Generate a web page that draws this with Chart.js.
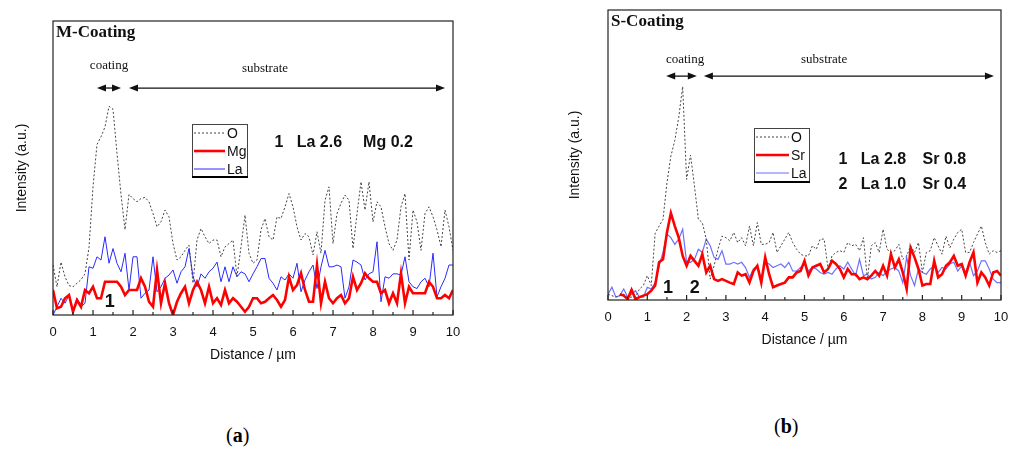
<!DOCTYPE html>
<html>
<head>
<meta charset="utf-8">
<script src="https://cdn.jsdelivr.net/npm/chart.js@4.4.1/dist/chart.umd.min.js"></script>
<style>
  body { margin: 0; width: 1013px; height: 450px; background: #fff; position: relative; overflow: hidden; font-family: "Liberation Serif", serif; }
  canvas { position: absolute; top: 0; }
  #chartA { left: 0; }
  #chartB { left: 540px; }
  .cap { position: absolute; font-size: 20px; color: #000; }
</style>
</head>
<body>
<canvas id="chartA" width="480" height="380"></canvas>
<canvas id="chartB" width="490" height="365"></canvas>
<div class="cap" style="left:226px;top:424px">(<b>a</b>)</div>
<div class="cap" style="left:774px;top:415px">(<b>b</b>)</div>
<script>
// distance along the line scan, µm
const distance = [0, 0.1, 0.2, 0.3, 0.4, 0.5, 0.6, 0.7, 0.8, 0.9, 1,
  1.1, 1.2, 1.3, 1.4, 1.5, 1.6, 1.7, 1.8, 1.9, 2,
  2.1, 2.2, 2.3, 2.4, 2.5, 2.6, 2.7, 2.8, 2.9, 3,
  3.1, 3.2, 3.3, 3.4, 3.5, 3.6, 3.7, 3.8, 3.9, 4,
  4.1, 4.2, 4.3, 4.4, 4.5, 4.6, 4.7, 4.8, 4.9, 5,
  5.1, 5.2, 5.3, 5.4, 5.5, 5.6, 5.7, 5.8, 5.9, 6,
  6.1, 6.2, 6.3, 6.4, 6.5, 6.6, 6.7, 6.8, 6.9, 7,
  7.1, 7.2, 7.3, 7.4, 7.5, 7.6, 7.7, 7.8, 7.9, 8,
  8.1, 8.2, 8.3, 8.4, 8.5, 8.6, 8.7, 8.8, 8.9, 9,
  9.1, 9.2, 9.3, 9.4, 9.5, 9.6, 9.7, 9.8, 9.9, 10];

// (a) M-Coating
const mO = [17, 9.6, 18, 13, 10, 9.6, 10.8, 12, 14, 23, 43.6,
  58, 60.6, 64, 71, 70, 55, 41, 29, 41, 39.6,
  38.5, 39.6, 40, 38.5, 34.5, 30, 31.7, 35.7, 33.4, 24.3,
  18.7, 19.8, 22, 23.8, 10.8, 25.5, 29.4, 26.6, 24.3, 25.5,
  25.5, 19.8, 23.2, 24.3, 25.5, 13, 23.2, 34, 21, 17.6,
  18.7, 29, 32.8, 26.6, 25.5, 33.4, 32.8, 36.8, 41.3, 36.8,
  30, 25.5, 27.7, 26.6, 20.4, 28.3, 21, 39, 43.6, 24.3,
  34.5, 38, 40.8, 39, 22.6, 34.5, 45.3, 35.7, 45.3, 31.7,
  38.5, 36.8, 30, 24.3, 22, 25.5, 36.8, 41.3, 18.7, 35.7,
  31.7, 22, 34.5, 36.8, 33.4, 29, 23.2, 35.7, 30, 22];
const mMg = [8.5, 2.3, 2.8, 5.7, 6.8, 1.1, 5.1, 2.8, 8.5, 7.4, 9.6,
  5.7, 5.7, 11.3, 11.3, 11.3, 11.3, 9.6, 6.8, 8.5, 8.5,
  8.5, 12.5, 9.6, 4.5, 2.8, 15.3, 4, 10.8, 4, 0,
  4.5, 7.4, 9.6, 4, 8.5, 11.3, 8.5, 4, 9.6, 4,
  5.7, 3.4, 8.5, 4, 5.7, 4.5, 2.8, 1.1, 2.8, 5.7,
  5.7, 4, 4.5, 5.7, 6.8, 5.1, 2.8, 5.1, 13, 8.5,
  10.2, 14.2, 8.5, 4.5, 4.5, 17, 4, 11.3, 5.7, 4,
  5.7, 6.8, 4, 5.7, 13, 8.5, 10.8, 14.2, 12.5, 11.3,
  11.3, 7.4, 8.5, 4, 7.4, 4, 14.2, 4, 9.6, 7.4,
  7.4, 7.4, 7.4, 11.3, 9.6, 5.7, 5.7, 6.8, 5.7, 8.5];
const mLa = [0, 2.8, 5.7, 4, 6.8, 1, 5.7, 2.8, 4, 16.4, 15.9,
  19.8, 18.7, 26.6, 17.6, 22.6, 17.6, 14.7, 21, 8.5, 19.8,
  19.8, 5.7, 7.4, 8.5, 19.8, 7.9, 9.6, 12.5, 13.6, 15.3,
  10.8, 14.7, 16.4, 22.6, 13, 9.6, 14, 12.5, 14.7, 15.9,
  18, 11.3, 16.4, 11.3, 16.4, 13, 14.7, 14, 11.3, 14,
  16.4, 19.2, 19.2, 12.5, 10.8, 8.5, 13, 11.9, 14, 12.5,
  17.6, 7.9, 11.9, 14.7, 17, 9, 16.4, 22, 16.4, 16.4,
  17, 16.4, 5.7, 9.6, 18.7, 18, 17, 11.9, 14, 14.7,
  24.9, 4.5, 13, 12.5, 14, 14, 13.6, 19.8, 11.3, 9.6,
  9, 11.3, 12.5, 9.6, 21, 6.2, 9.6, 12.5, 17, 17];

// (b) S-Coating
const sO = [2, 1.5, 1, 1.5, 2, 1, 1, 1, 3.8, 5, 8.4,
  5, 23, 25.5, 27.8, 40.4, 49.6, 55, 63, 73.6, 41.6,
  50, 39.3, 27.8, 26.7, 21, 7.2, 11.8, 17.5, 22, 21.5,
  20.4, 23.3, 19.8, 21.5, 18.7, 25.5, 18.7, 26.7, 19.2, 19.2,
  19.8, 23.3, 16.4, 18.7, 21, 23.3, 19.8, 17.5, 15.8, 15.2,
  15.2, 18.7, 17.5, 21, 21, 10.7, 15.2, 16.4, 17, 16.4,
  19.8, 18.7, 19.2, 17, 21.5, 7.2, 18.7, 19.8, 16.4, 24.4,
  17.5, 16.4, 17, 19.2, 14, 15.2, 18.7, 16.4, 19.8, 9.5,
  16.4, 17, 21.5, 18.7, 15.8, 22, 18, 21, 23.3, 24.4,
  16.4, 16.4, 19.8, 22.7, 25.5, 19.8, 15.8, 17, 16.4, 17];
const sSr = [null, null, null, 2, 1.5, 0.3, 3.5, 0.3, 1, 1.5, 2,
  3.2, 5, 13, 14, 23.3, 30, 25.5, 21.5, 15.2, 11.8,
  15.2, 13.5, 11.8, 15.8, 9.5, 11.8, 7.2, 6.6, 7.2, 6.6,
  6, 5.5, 9.5, 8.4, 8.9, 6, 10, 11.8, 6, 14.7,
  8.9, 4.4, 5, 5.5, 6, 7.8, 7.8, 9.5, 10, 13.5,
  8.4, 11.2, 11.8, 12.4, 9.5, 10.7, 13.5, 12.4, 10.7, 7.8,
  10.7, 8.9, 8.9, 7.2, 7.8, 7.2, 8.4, 10, 8.4, 11.8,
  8.4, 15.8, 11.2, 14, 9.5, 3.8, 18, 14.7, 10.7, 5,
  5.5, 5.5, 13.5, 7.8, 8.9, 11.8, 13, 15.2, 11.8, 12.4,
  8.4, 13, 16.4, 6, 9.5, 7.8, 5, 9.5, 10, 8.4];
const sLa = [2, 4.4, 1, 1.5, 3.8, 1, 2, 3.2, 1, 1, 4.4,
  3.8, 6, 11.8, 16.4, 22.7, 21.5, 19.2, 21, 24.4, 13,
  13, 14, 17.5, 16.4, 21, 18.7, 14.7, 14, 17, 12.4,
  12.4, 13, 12.4, 13, 11.2, 7.8, 10.7, 11.8, 7.2, 13,
  12.4, 11.2, 11.8, 12.4, 11.2, 13, 10, 10, 11.2, 12.4,
  10, 11.2, 10.7, 9.5, 8.9, 9.5, 8.9, 10.7, 11.8, 10.7,
  13, 10.7, 8.4, 14, 8.4, 8.9, 7.2, 7.8, 9.5, 8.4,
  10, 10.7, 11.2, 10, 6, 14.7, 8.4, 5, 10.7, 9.5,
  8.9, 10.7, 11.8, 9.5, 11.2, 10.7, 12.4, 13, 10, 11.8,
  9.5, 13, 8.4, 10, 13.5, 13.5, 10.7, 7.2, 6, 6];

const SANS = '"Liberation Sans", Arial, sans-serif';
const SERIF = '"Liberation Serif", "Times New Roman", serif';

// frame, inward ticks, legend box, arrows and notes
const decor = {
  id: 'decor',
  afterDraw(chart, args, o) {
    const { ctx, chartArea: a, scales: { x, y } } = chart;
    const px = v => x.getPixelForValue(v);
    const py = v => y.getPixelForValue(v);
    const line = (x1, y1, x2, y2) => { ctx.beginPath(); ctx.moveTo(x1, y1); ctx.lineTo(x2, y2); ctx.stroke(); };
    ctx.save();

    ctx.strokeStyle = '#222';
    ctx.lineWidth = 1.2;
    ctx.strokeRect(a.left, a.top, a.right - a.left, a.bottom - a.top);
    x.ticks.forEach((t, i) => {
      line(px(t.value), a.bottom, px(t.value), a.bottom - 5);
      if (i < x.ticks.length - 1) {
        const m = px(t.value + 0.5);
        line(m, a.bottom, m, a.bottom - 3);
      }
    });

    ctx.fillStyle = '#111';
    ctx.textBaseline = 'middle';
    ctx.textAlign = 'left';
    ctx.font = 'bold 17px ' + SERIF;
    ctx.fillText(o.name, a.left + 3, a.top + 12);

    // coating / substrate arrows
    ctx.font = '13px ' + SERIF;
    ctx.textAlign = 'center';
    o.regions.forEach(r => {
      const x1 = px(r.from), x2 = px(r.to), yy = py(r.arrowY);
      ctx.fillText(r.label, px(r.labelX), py(r.labelY));
      ctx.strokeStyle = '#111';
      ctx.lineWidth = 1.3;
      line(x1 + 4, yy, x2 - 4, yy);
      [[x1, 1], [x2, -1]].forEach(([hx, d]) => {
        ctx.beginPath();
        ctx.moveTo(hx, yy);
        ctx.lineTo(hx + d * 9, yy - 3.5);
        ctx.lineTo(hx + d * 9, yy + 3.5);
        ctx.closePath();
        ctx.fill();
      });
    });

    // legend
    const L = o.legend;
    const lx = Math.round(px(L.x)), ly = Math.round(py(L.y));
    ctx.fillStyle = '#fff';
    ctx.fillRect(lx, ly, L.w, L.h);
    ctx.strokeStyle = '#444';
    ctx.lineWidth = 1;
    ctx.strokeRect(lx + 0.5, ly + 0.5, L.w, L.h);
    ctx.strokeStyle = '#000';
    ctx.lineWidth = 2;
    line(lx, ly + L.h + 1, lx + L.w + 1, ly + L.h + 1);
    ctx.font = '14px ' + SANS;
    ctx.textAlign = 'left';
    chart.data.datasets.forEach((ds, i) => {
      const ry = ly + 9 + i * 18;
      ctx.strokeStyle = ds.borderColor;
      ctx.lineWidth = ds.borderWidth;
      ctx.setLineDash(ds.borderDash);
      line(lx + 2, ry, lx + L.lineLen, ry);
      ctx.setLineDash([]);
      ctx.fillStyle = '#111';
      ctx.fillText(ds.label, lx + L.lineLen + 2, ry + 1);
    });

    // composition notes
    ctx.fillStyle = '#111';
    ctx.textAlign = 'center';
    o.notes.forEach(n => {
      ctx.font = 'bold ' + n.size + 'px ' + SANS;
      ctx.fillText(n.text, px(n.x), py(n.y));
    });
    ctx.restore();
  }
};

function makeChart(id, series, layout, deco) {
  return new Chart(document.getElementById(id), {
    type: 'line',
    data: {
      datasets: series.map(s => ({
        label: s.label,
        data: s.values.map((v, i) => ({ x: distance[i], y: v })),
        borderColor: s.color,
        borderWidth: s.width,
        borderDash: s.dash,
        pointRadius: 0,
        tension: 0,
        fill: false
      }))
    },
    options: {
      responsive: false,
      animation: false,
      events: [],
      layout: { padding: { left: 0, right: layout.padRight, top: layout.padTop, bottom: 0 } },
      plugins: { legend: { display: false }, tooltip: { enabled: false }, decor: deco },
      scales: {
        x: {
          type: 'linear', min: 0, max: 10,
          ticks: { stepSize: 1, padding: 2, color: '#111', font: { family: SANS, size: 13 } },
          grid: { display: false },
          border: { display: false },
          title: { display: true, text: 'Distance / µm', color: '#111', font: { family: SANS, size: 14 }, padding: { top: 0, bottom: 16 } },
          afterFit(s) { s.height = 65; }
        },
        y: {
          min: 0, max: 100,
          ticks: { display: false },
          grid: { display: false },
          border: { display: false },
          title: { display: true, text: 'Intensity (a.u.)', color: '#111', font: { family: SANS, size: 14 }, padding: { top: layout.titlePad, bottom: 0 } },
          afterFit(s) { s.width = layout.yWidth; }
        }
      }
    },
    plugins: [decor]
  });
}

makeChart('chartA', [
  { label: 'O', values: mO, color: '#444', width: 1, dash: [2, 2] },
  { label: 'Mg', values: mMg, color: '#ff0000', width: 2.6, dash: [] },
  { label: 'La', values: mLa, color: '#2a2aff', width: 1, dash: [] }
], { padRight: 27, padTop: 21, yWidth: 53, titlePad: 13.6 }, {
  name: 'M-Coating',
  regions: [
    { label: 'coating', labelX: 1.4, labelY: 84.7, from: 1.1, to: 1.7, arrowY: 77.2 },
    { label: 'substrate', labelX: 5.3, labelY: 83.7, from: 1.9, to: 9.8, arrowY: 77.2 }
  ],
  legend: { x: 3.475, y: 65, w: 55, h: 52, lineLen: 33 },
  notes: [
    { text: '1', x: 5.65, y: 58.8, size: 16 },
    { text: 'La 2.6', x: 6.66, y: 58.8, size: 16 },
    { text: 'Mg 0.2', x: 8.375, y: 58.8, size: 16 },
    { text: '1', x: 1.42, y: 4.4, size: 18 }
  ]
});

makeChart('chartB', [
  { label: 'O', values: sO, color: '#444', width: 1, dash: [2, 2] },
  { label: 'Sr', values: sSr, color: '#ff0000', width: 2.6, dash: [] },
  { label: 'La', values: sLa, color: '#6f6fff', width: 1.2, dash: [] }
], { padRight: 29, padTop: 10, yWidth: 68, titlePad: 26.6 }, {
  name: 'S-Coating',
  regions: [
    { label: 'coating', labelX: 1.96, labelY: 82.8, from: 1.48, to: 2.26, arrowY: 77.2 },
    { label: 'substrate', labelX: 5.5, labelY: 82.8, from: 2.44, to: 9.82, arrowY: 77.2 }
  ],
  legend: { x: 3.72, y: 59.3, w: 55, h: 53, lineLen: 35 },
  notes: [
    { text: '1', x: 5.98, y: 48.3, size: 16 },
    { text: 'La 2.8', x: 7.01, y: 48.3, size: 16 },
    { text: 'Sr 0.8', x: 8.56, y: 48.3, size: 16 },
    { text: '2', x: 5.98, y: 39.7, size: 16 },
    { text: 'La 1.0', x: 7.01, y: 39.7, size: 16 },
    { text: 'Sr 0.4', x: 8.56, y: 39.7, size: 16 },
    { text: '1', x: 1.53, y: 4.1, size: 18 },
    { text: '2', x: 2.21, y: 4.1, size: 18 }
  ]
});
</script>
</body>
</html>
